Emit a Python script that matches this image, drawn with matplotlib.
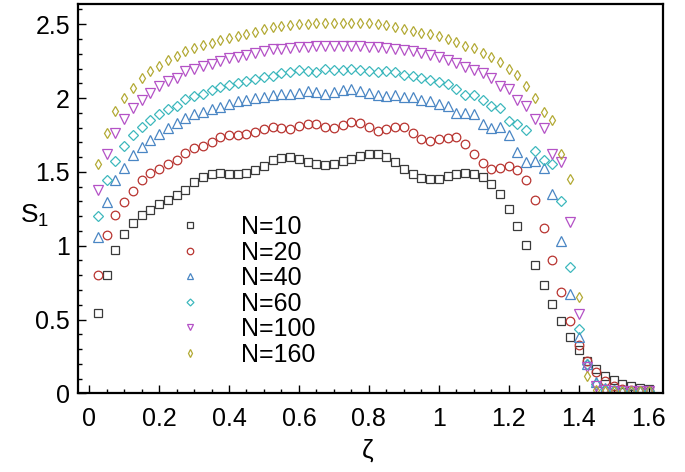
import numpy as np
import matplotlib
matplotlib.use("Agg")
import matplotlib.pyplot as plt
from matplotlib.ticker import MultipleLocator, FuncFormatter

plt.rcParams['font.family'] = ['Liberation Sans', 'DejaVu Sans']
plt.rcParams['mathtext.fontset'] = 'custom'
plt.rcParams['mathtext.rm'] = 'Liberation Sans'
plt.rcParams['mathtext.it'] = 'Liberation Sans'

# zeta grid (0.025 .. 1.6)
zeta = [round(0.025 * k, 3) for k in range(1, 65)]

s_n10 = [0.545, 0.80, 0.968, 1.076, 1.153, 1.205, 1.244, 1.28, 1.307, 1.341,
         1.38, 1.43, 1.465, 1.488, 1.493, 1.488, 1.488, 1.493, 1.51, 1.538,
         1.578, 1.597, 1.601, 1.59, 1.567, 1.551, 1.545, 1.551, 1.572, 1.59,
         1.606, 1.619, 1.619, 1.601, 1.567, 1.522, 1.483, 1.461, 1.45, 1.454,
         1.47, 1.485, 1.493, 1.488, 1.465, 1.42, 1.348, 1.25, 1.131, 1.002,
         0.871, 0.735, 0.606, 0.488, 0.384, 0.294, 0.222, 0.165, 0.12, 0.09,
         0.063, 0.047, 0.036, 0.029]

s_n20 = [0.80, 1.07, 1.205, 1.296, 1.368, 1.443, 1.495, 1.522, 1.551, 1.583,
         1.63, 1.662, 1.673, 1.703, 1.737, 1.748, 1.748, 1.755, 1.771, 1.792,
         1.805, 1.798, 1.793, 1.809, 1.827, 1.823, 1.805, 1.80, 1.82, 1.839,
         1.834, 1.805, 1.78, 1.79, 1.805, 1.805, 1.76, 1.725, 1.71, 1.72,
         1.73, 1.735, 1.69, 1.619, 1.56, 1.522, 1.529, 1.54, 1.515, 1.443,
         1.307, 1.119, 0.905, 0.685, 0.488, 0.33, 0.222, 0.142, 0.086, 0.047,
         0.029, 0.023, 0.018, 0.018]

s_n40 = [1.058, 1.296, 1.443, 1.527, 1.612, 1.669, 1.714, 1.759, 1.795, 1.83,
         1.865, 1.89, 1.903, 1.923, 1.942, 1.958, 1.978, 1.986, 1.999, 2.008,
         2.019, 2.03, 2.026, 2.035, 2.049, 2.042, 2.03, 2.042, 2.053, 2.058,
         2.049, 2.035, 2.022, 2.016, 2.02, 2.008, 2.006, 1.99, 1.98, 1.96,
         1.945, 1.90, 1.897, 1.89, 1.822, 1.797, 1.802, 1.752, 1.635, 1.565,
         1.573, 1.524, 1.347, 1.031, 0.674, 0.38, 0.199, 0.079, 0.034, 0.023,
         0.018, 0.015, 0.015, 0.015]

s_n60 = [1.20, 1.443, 1.572, 1.676, 1.748, 1.803, 1.852, 1.895, 1.927, 1.945,
         1.993, 2.014, 2.03, 2.055, 2.073, 2.09, 2.10, 2.115, 2.127, 2.142,
         2.152, 2.171, 2.178, 2.189, 2.185, 2.178, 2.194, 2.189, 2.189, 2.194,
         2.189, 2.185, 2.175, 2.185, 2.175, 2.158, 2.146, 2.135, 2.123, 2.112,
         2.092, 2.062, 2.024, 2.019, 1.986, 1.945, 1.932, 1.845, 1.827, 1.782,
         1.638, 1.58, 1.551, 1.30, 0.855, 0.436, 0.199, 0.063, 0.029, 0.02,
         0.015, 0.015, 0.015, 0.015]

s_n100 = [1.379, 1.619, 1.764, 1.861, 1.93, 1.99, 2.035, 2.083, 2.114, 2.139,
          2.18, 2.20, 2.218, 2.234, 2.252, 2.268, 2.279, 2.295, 2.306, 2.32,
          2.332, 2.335, 2.34, 2.345, 2.348, 2.35, 2.352, 2.352, 2.352, 2.35,
          2.35, 2.348, 2.347, 2.336, 2.329, 2.325, 2.32, 2.307, 2.291, 2.275,
          2.261, 2.239, 2.212, 2.189, 2.171, 2.139, 2.08, 2.059, 1.986, 1.945,
          1.855, 1.794, 1.619, 1.57, 1.16, 0.538, 0.176, 0.05, 0.02, 0.015,
          0.015, 0.015, 0.015, 0.015]

s_n160 = [1.551, 1.766, 1.911, 1.997, 2.071, 2.133, 2.182, 2.218, 2.257, 2.284,
          2.316, 2.34, 2.358, 2.374, 2.392, 2.408, 2.421, 2.437, 2.449, 2.465,
          2.478, 2.49, 2.495, 2.50, 2.503, 2.505, 2.507, 2.51, 2.51, 2.51,
          2.51, 2.507, 2.501, 2.494, 2.483, 2.471, 2.456, 2.444, 2.433, 2.42,
          2.397, 2.377, 2.354, 2.336, 2.302, 2.275, 2.246, 2.20, 2.155, 2.08,
          1.997, 1.907, 1.85, 1.619, 1.454, 0.651, 0.12, 0.02, 0.015, 0.015,
          0.015, 0.015, 0.015, 0.015]

labels = ["N=10", "N=20", "N=40", "N=60", "N=100", "N=160"]
series = [s_n10, s_n20, s_n40, s_n60, s_n100, s_n160]
colors = ["#3a3a3a", "#b83430", "#4a86c4", "#3db8bd", "#b452c6", "#b3aa35"]
markers = ["s", "o", "^", "D", "v", "d"]
msizes = [5.6, 6.2, 6.6, 4.7, 6.6, 5.3]

fig = plt.figure(figsize=(6.85, 4.72), dpi=100)
ax = fig.add_axes([0.1143, 0.1667, 0.853, 0.8248])

for y, lab, c, m, ms in zip(series, labels, colors, markers, msizes):
    ax.plot(zeta, y, linestyle='none', marker=m, markersize=ms,
            markerfacecolor='none', markeredgecolor=c, markeredgewidth=0.9,
            label=lab)

ax.set_xlim(-0.031, 1.64)
ax.set_ylim(0, 2.637)

ax.xaxis.set_major_locator(MultipleLocator(0.2))
ax.xaxis.set_minor_locator(MultipleLocator(0.05))
ax.yaxis.set_major_locator(MultipleLocator(0.5))
ax.yaxis.set_minor_locator(MultipleLocator(0.1))
fmt = FuncFormatter(lambda v, p: ('%g' % round(v, 3)))
ax.xaxis.set_major_formatter(fmt)
ax.yaxis.set_major_formatter(fmt)

ax.tick_params(which='both', direction='in', top=False, right=False,
               width=1.0, labelsize=18)
ax.tick_params(which='major', length=6)
ax.tick_params(which='minor', length=3)
ax.tick_params(axis='x', which='major', pad=10)
ax.tick_params(axis='y', which='major', pad=6)
for sp in ax.spines.values():
    sp.set_linewidth(1.6)

leg = ax.legend(loc='upper left', bbox_to_anchor=(0.169, 0.458), frameon=False,
                fontsize=18, markerscale=0.75, handlelength=1.0,
                handletextpad=1.55, labelspacing=0.06, borderpad=0,
                borderaxespad=0)

fig.text(35 / 685, 1 - 216 / 472, r'$\mathrm{S}_1$', fontsize=19,
         ha='center', va='center')
fig.text(368 / 685, 1 - 451 / 472, 'ζ', fontsize=19, ha='center', va='center')

fig.savefig('out.png', dpi=100)
